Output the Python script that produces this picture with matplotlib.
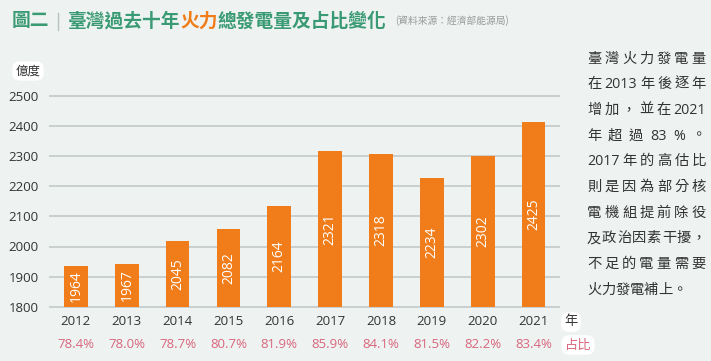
import re
import matplotlib
matplotlib.use("Agg")
import matplotlib.pyplot as plt
from matplotlib.lines import Line2D

plt.rcParams['font.family'] = ['Noto Sans CJK TC', 'DejaVu Sans']
NUMFONT = ['Open Sans', 'Noto Sans CJK TC']

years = ['2012', '2013', '2014', '2015', '2016', '2017', '2018', '2019', '2020', '2021']
value_labels = [1964, 1967, 2045, 2082, 2164, 2321, 2318, 2234, 2302, 2425]
bar_heights = [1935, 1941, 2017, 2058, 2136, 2316, 2307, 2226, 2300, 2415]
shares = ['78.4%', '78.0%', '78.7%', '80.7%', '81.9%', '85.9%', '84.1%', '81.5%', '82.2%', '83.4%']
yticks = [1800, 1900, 2000, 2100, 2200, 2300, 2400, 2500]
paragraph = ['臺灣火力發電量', '在 2013 年後逐年', '增加，並在 2021', '年 超 過 83 %。',
             '2017 年的高估比', '則是因為部分核', '電機組提前除役', '及政治因素干擾，',
             '不足的電量需要', '火力發電補上。']

BG = '#eef3f2'
ORANGE = '#f07d19'
GREEN = '#3a9a74'
PINK = '#d9667c'
DARK = '#333333'
GRID = '#c9cfcf'

W, H = 711, 361
fig = plt.figure(figsize=(W / 100, H / 100), dpi=100, facecolor=BG)

def fx(px):
    return px / W

def fy(py):
    return 1 - py / H

ax = fig.add_axes([fx(50), fy(306.7), fx(559) - fx(50), fy(96) - fy(306.7)])
ax.set_facecolor(BG)
ax.set_xlim(-0.51, 9.5)
ax.set_ylim(1800, 2500)
for s in ax.spines.values():
    s.set_visible(False)
for t in yticks:
    ax.axhline(t, color=GRID, lw=1.4, zorder=1, clip_on=False)
x = list(range(len(years)))
ax.bar(x, [h - 1800 for h in bar_heights], bottom=1800, width=0.466, color=ORANGE, zorder=3)
for i, (h, v) in enumerate(zip(bar_heights, value_labels)):
    ax.text(i, (1800 + h) / 2, str(v), rotation=90, ha='center', va='center',
            color='white', fontsize=10, family=NUMFONT, zorder=4)
ax.set_yticks(yticks)
ax.set_yticklabels([str(t) for t in yticks], fontsize=9.5, color=DARK, family=NUMFONT)
ax.tick_params(axis='y', length=0, pad=8)
ax.set_xticks(x)
ax.set_xticklabels(years, fontsize=9.5, color=DARK, family=NUMFONT)
ax.tick_params(axis='x', length=0, pad=6)
for i, s in enumerate(shares):
    xd = ax.transData.transform((i, 1800))[0]
    fig.text(xd / W, fy(345), s, ha='center', va='center', fontsize=9.5, color=PINK, family=NUMFONT)

box = dict(boxstyle='round,pad=0.25,rounding_size=0.6', fc='white', ec='none')
fig.text(fx(28), fy(71), '億度', ha='center', va='center', fontsize=9, color=DARK, bbox=box)
fig.text(fx(571), fy(322), '年', ha='center', va='center', fontsize=9.5, color=DARK, bbox=box)
fig.text(fx(578), fy(345), '占比', ha='center', va='center', fontsize=9.5, color=PINK, bbox=box)

fig.canvas.draw()
renderer = fig.canvas.get_renderer()

def width_px(s, **kw):
    t = fig.text(0, 0, s, **kw)
    w = t.get_window_extent(renderer).width
    t.remove()
    return w

# title
tkw = dict(fontsize=13.5, fontweight='bold', va='center')
fig.text(fx(12), fy(21), '圖二', color=GREEN, **tkw)
fig.add_artist(Line2D([fx(58), fx(58)], [fy(13), fy(30)], color='#b5c2be', lw=1.0))
cx = 68
for seg, col in [('臺灣過去十年', GREEN), ('火力', ORANGE), ('總發電量及占比變化', GREEN)]:
    fig.text(fx(cx), fy(21), seg, color=col, **tkw)
    cx += width_px(seg, **tkw)
fig.text(fx(395), fy(21), '(資料來源：經濟部能源局)', fontsize=7, color='#9a9a9a', va='center')

# paragraph, justified
pkw = dict(fontsize=10.3, color=DARK, va='center', family=['Open Sans', 'Noto Sans CJK TC'])
x0, x1 = 587, 706
for li, line in enumerate(paragraph):
    yy = 59 + li * 25.7
    tokens = re.findall(r'[A-Za-z0-9]+|\S', line)
    widths = [width_px(tk, **pkw) for tk in tokens]
    if li == len(paragraph) - 1:
        gap = 0.0
    else:
        gap = (x1 - x0 - sum(widths)) / (len(tokens) - 1)
    cx = x0
    for tk, w in zip(tokens, widths):
        fig.text(fx(cx), fy(yy), tk, **pkw)
        cx += w + gap

fig.savefig('out.png', dpi=100, facecolor=BG)
